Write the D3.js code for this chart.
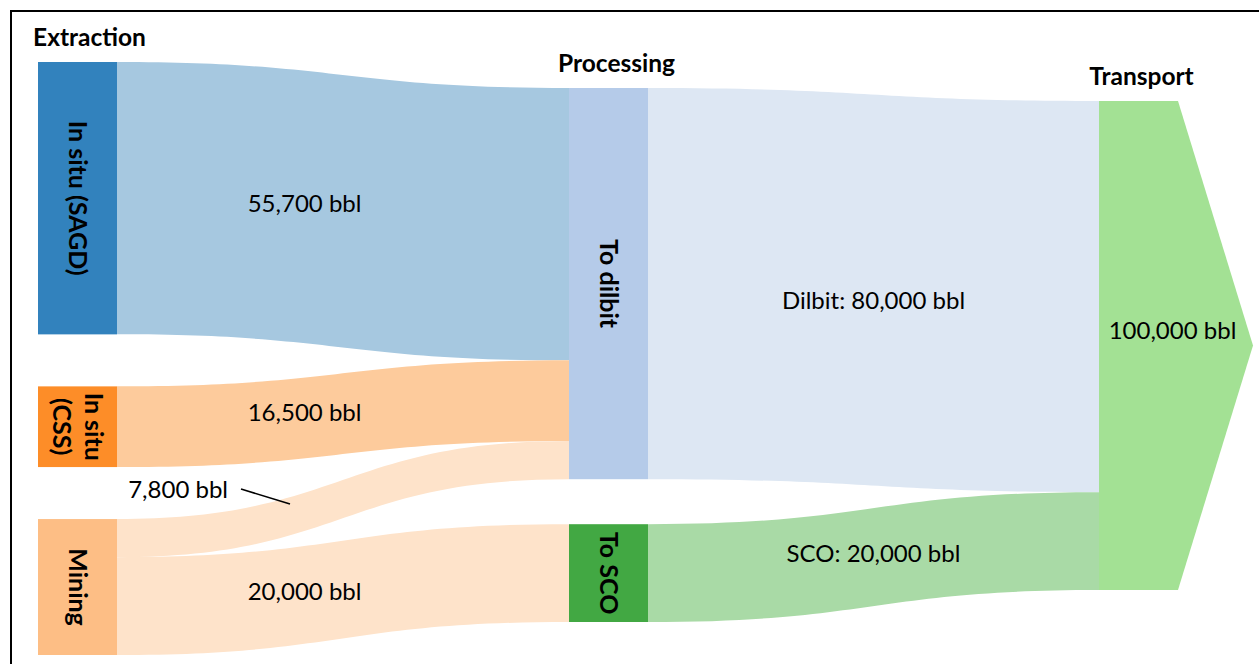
<!DOCTYPE html>
<html>
<head>
<meta charset="utf-8">
<script src="https://cdn.jsdelivr.net/npm/d3@7"></script>
<style>
  body { margin: 0; background: #fff; }
  svg { display: block; font-family: Lato, "Open Sans", sans-serif; }
</style>
</head>
<body>
<div id="chart"></div>
<script>
// stages and nodes
var stages = ["Extraction", "Processing", "Transport"];
var extractionNodes = ["In situ (SAGD)", "In situ (CSS)", "Mining"];
var processingNodes = ["To dilbit", "To SCO"];
var transportNodes = ["Transport"];

// flows (barrels)
var flowSource = ["In situ (SAGD)", "In situ (CSS)", "Mining", "Mining", "To dilbit", "To SCO"];
var flowTarget = ["To dilbit", "To dilbit", "To dilbit", "To SCO", "Transport", "Transport"];
var flowValue = [55700, 16500, 7800, 20000, 80000, 20000];
var flowPrefix = ["", "", "", "", "Dilbit: ", "SCO: "];

// colours
var nodeColor = {
  "In situ (SAGD)": "#3282bd", "In situ (CSS)": "#fd8d28", "Mining": "#fdbe85",
  "To dilbit": "#b5cbe9", "To SCO": "#42a843", "Transport": "#a3e194"
};
var linkColor = {
  "In situ (SAGD)": "#a6c8e0", "In situ (CSS)": "#fdcb9c", "Mining": "#fee3ca",
  "To dilbit": "#dde7f3", "To SCO": "#a9daa6"
};

var width = 1259, height = 664;
var nodeW = 79;
var colX = [38, 569, 1099];
var colTop = [62, 88, 101];
var colGap = [52, 45, 0];
var headerDx = [12, 8, 3];
var labelDy = [-3, -5, 0, -4, 10, -4];   // nudges of link labels

var y = d3.scaleLinear().domain([0, 100000]).range([0, 489]);
var fmt = d3.format(",");

var svg = d3.select("#chart").append("svg")
  .attr("width", width).attr("height", height);

// frame
svg.append("rect")
  .attr("x", 11).attr("y", 11)
  .attr("width", width + 20).attr("height", height + 20)
  .attr("fill", "none").attr("stroke", "#000").attr("stroke-width", 2);

// build nodes
var columns = [extractionNodes, processingNodes, transportNodes];
var nodes = {};
columns.forEach(function (col, ci) {
  var top = colTop[ci];
  col.forEach(function (name) {
    var vin = d3.sum(flowValue.filter(function (v, i) { return flowTarget[i] === name; }));
    var vout = d3.sum(flowValue.filter(function (v, i) { return flowSource[i] === name; }));
    var v = Math.max(vin, vout);
    nodes[name] = { name: name, col: ci, x: colX[ci], y0: top, y1: top + y(v), outY: top, inY: top };
    top += y(v) + colGap[ci];
  });
});

// build links
var links = flowValue.map(function (v, i) {
  var s = nodes[flowSource[i]], t = nodes[flowTarget[i]];
  var l = {
    source: s, target: t, value: v, label: flowPrefix[i] + fmt(v) + " bbl", dy: labelDy[i],
    x0: s.x + nodeW, x1: t.x,
    s0: s.outY, s1: s.outY + y(v),
    t0: t.inY, t1: t.inY + y(v)
  };
  s.outY += y(v);
  t.inY += y(v);
  return l;
});

function linkPath(l) {
  var xm = (l.x0 + l.x1) / 2;
  return "M" + l.x0 + "," + l.s0 +
    "C" + xm + "," + l.s0 + " " + xm + "," + l.t0 + " " + l.x1 + "," + l.t0 +
    "L" + l.x1 + "," + l.t1 +
    "C" + xm + "," + l.t1 + " " + xm + "," + l.s1 + " " + l.x0 + "," + l.s1 + "Z";
}

svg.selectAll(".link")
  .data(links)
  .enter()
  .append("path")
  .attr("class", "link")
  .attr("d", linkPath)
  .attr("fill", function (d) { return linkColor[d.source.name]; });

// nodes
var nodeList = Object.values(nodes);
svg.selectAll(".node")
  .data(nodeList.filter(function (d) { return d.name !== "Transport"; }))
  .enter()
  .append("rect")
  .attr("class", "node")
  .attr("x", function (d) { return d.x; })
  .attr("y", function (d) { return d.y0; })
  .attr("width", nodeW)
  .attr("height", function (d) { return d.y1 - d.y0; })
  .attr("fill", function (d) { return nodeColor[d.name]; });

// transport arrow
var tn = nodes["Transport"];
var tipX = 1253;
svg.append("path")
  .attr("d", "M" + tn.x + "," + tn.y0 + "L" + (tn.x + nodeW) + "," + tn.y0 +
    "L" + tipX + "," + ((tn.y0 + tn.y1) / 2) +
    "L" + (tn.x + nodeW) + "," + tn.y1 + "L" + tn.x + "," + tn.y1 + "Z")
  .attr("fill", nodeColor["Transport"]);
svg.append("text")
  .attr("x", tn.x + nodeW / 2 + 34)
  .attr("y", (tn.y0 + tn.y1) / 2 - 7)
  .attr("text-anchor", "middle")
  .style("font-size", "24px")
  .text(fmt(d3.sum(flowValue.filter(function (v, i) { return flowTarget[i] === "Transport"; }))) + " bbl");

// vertical node labels
var nodeLines = {
  "In situ (SAGD)": ["In situ (SAGD)"], "In situ (CSS)": ["In situ", "(CSS)"],
  "Mining": ["Mining"], "To dilbit": ["To dilbit"], "To SCO": ["To SCO"]
};
nodeList.filter(function (d) { return d.name !== "Transport"; }).forEach(function (d) {
  var cx = d.x + nodeW / 2, cy = (d.y0 + d.y1) / 2;
  var lines = nodeLines[d.name];
  var t = svg.append("text")
    .attr("transform", "translate(" + cx + "," + cy + ") rotate(90)")
    .attr("text-anchor", "middle")
    .style("font-size", "25px")
    .style("font-weight", "bold");
  lines.forEach(function (ln, i) {
    t.append("tspan")
      .attr("x", 0)
      .attr("y", (i - (lines.length - 1) / 2) * 32 + 9)
      .text(ln);
  });
});

// stage headers
stages.forEach(function (s, i) {
  svg.append("text")
    .attr("x", colX[i] + nodeW / 2 + headerDx[i])
    .attr("y", colTop[i] - 16)
    .attr("text-anchor", "middle")
    .style("font-size", "24.5px")
    .style("font-weight", "bold")
    .text(s);
});

// position on a link's centre line at a fraction of its length
function linkMid(l, frac) {
  // solve x(t) of the cubic for t, then take y(t)
  var t = d3.range(0, 1.0001, 0.001).find(function (t) {
    return 1.5 * t * (1 - t) + t * t * t >= frac;
  });
  var e = 3 * t * t - 2 * t * t * t;
  var top = l.s0 + (l.t0 - l.s0) * e, bot = l.s1 + (l.t1 - l.s1) * e;
  return [l.x0 + (l.x1 - l.x0) * frac, (top + bot) / 2];
}

// link labels
links.forEach(function (l) {
  var w = l.s1 - l.s0;
  if (w < 45) {
    // small flow: label outside with a leader line
    svg.append("text")
      .attr("x", l.x0 + 111)
      .attr("y", l.s0 - 21)
      .attr("text-anchor", "end")
      .style("font-size", "24px")
      .text(l.label);
    svg.append("line")
      .attr("x1", l.x0 + 124).attr("y1", l.s0 - 30)
      .attr("x2", l.x0 + 173).attr("y2", l.s0 - 15)
      .attr("stroke", "#000").attr("stroke-width", 1.5);
  } else {
    var p = linkMid(l, l.source.col === 0 ? 0.415 : 0.5);
    svg.append("text")
      .attr("x", p[0])
      .attr("y", p[1] + l.dy + 8.5)
      .attr("text-anchor", "middle")
      .style("font-size", "24px")
      .text(l.label);
  }
});
</script>
</body>
</html>
